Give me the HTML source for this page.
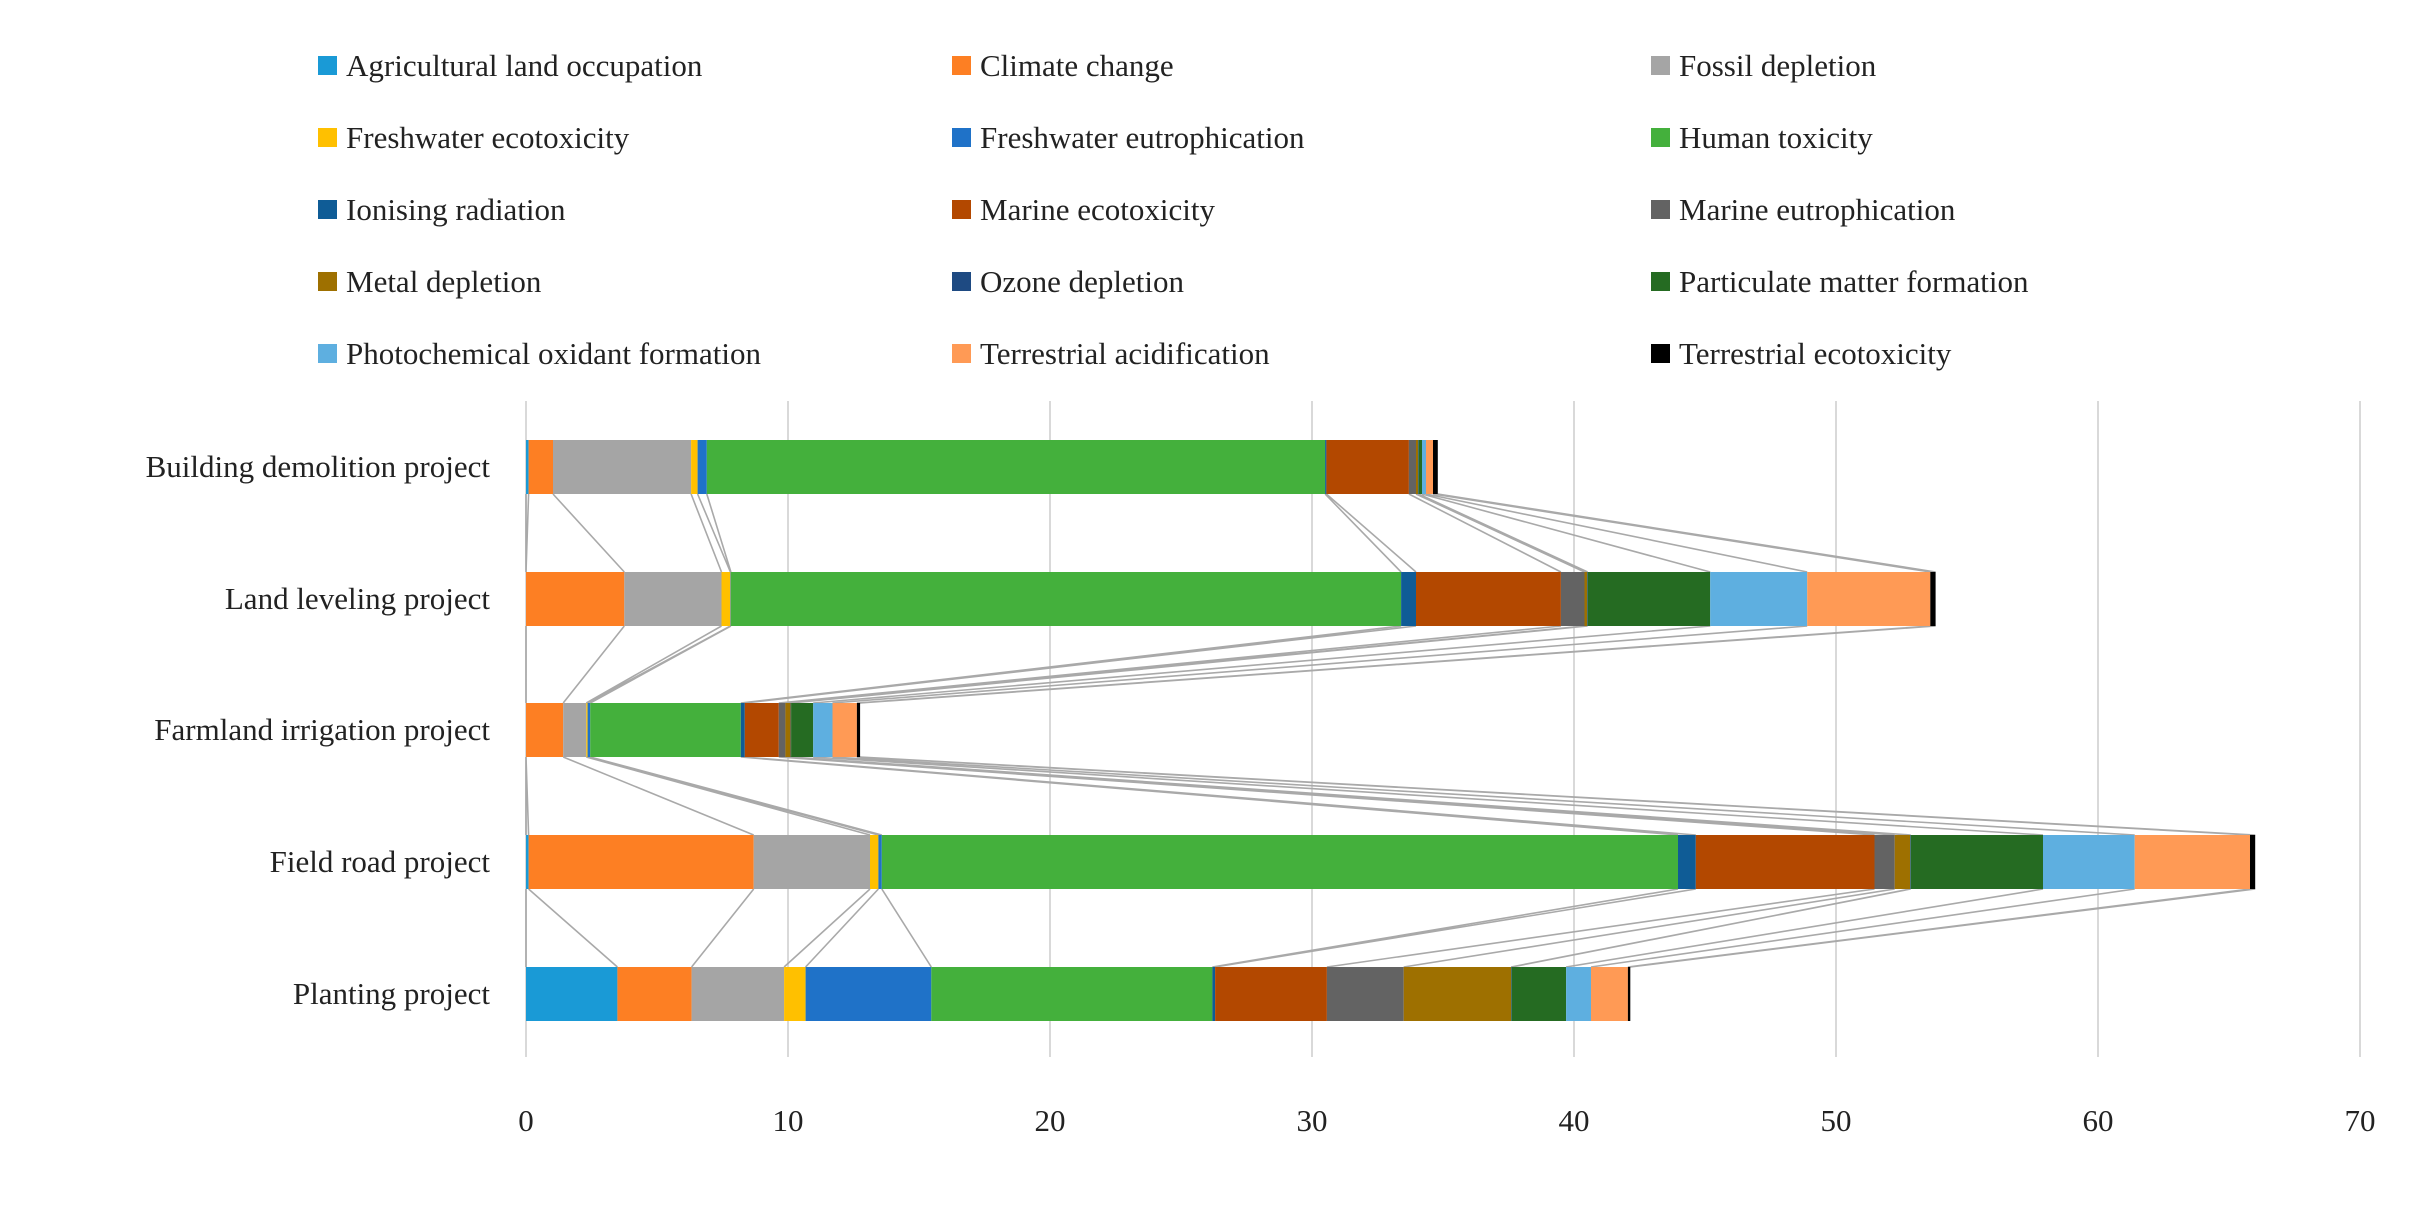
<!DOCTYPE html>
<html><head><meta charset="utf-8"><style>
body{margin:0;background:#fff;}
svg text{font-family:"Liberation Serif",serif;fill:#222;font-size:31px;}
</style></head><body>
<svg width="2409" height="1201" xmlns="http://www.w3.org/2000/svg">
<!-- legend -->
<g>
<rect x="318" y="56" width="19" height="19" fill="#1a9ad6"/><text x="346" y="76">Agricultural land occupation</text>
<rect x="952" y="56" width="19" height="19" fill="#fd7f23"/><text x="980" y="76">Climate change</text>
<rect x="1651" y="56" width="19" height="19" fill="#a5a5a5"/><text x="1679" y="76">Fossil depletion</text>
<rect x="318" y="128" width="19" height="19" fill="#ffc000"/><text x="346" y="148">Freshwater ecotoxicity</text>
<rect x="952" y="128" width="19" height="19" fill="#1f72c8"/><text x="980" y="148">Freshwater eutrophication</text>
<rect x="1651" y="128" width="19" height="19" fill="#44b03c"/><text x="1679" y="148">Human toxicity</text>
<rect x="318" y="200" width="19" height="19" fill="#0f5c96"/><text x="346" y="220">Ionising radiation</text>
<rect x="952" y="200" width="19" height="19" fill="#b34800"/><text x="980" y="220">Marine ecotoxicity</text>
<rect x="1651" y="200" width="19" height="19" fill="#636363"/><text x="1679" y="220">Marine eutrophication</text>
<rect x="318" y="272" width="19" height="19" fill="#9e7000"/><text x="346" y="292">Metal depletion</text>
<rect x="952" y="272" width="19" height="19" fill="#1e4a82"/><text x="980" y="292">Ozone depletion</text>
<rect x="1651" y="272" width="19" height="19" fill="#256b22"/><text x="1679" y="292">Particulate matter formation</text>
<rect x="318" y="344" width="19" height="19" fill="#5eafe0"/><text x="346" y="364">Photochemical oxidant formation</text>
<rect x="952" y="344" width="19" height="19" fill="#ff9a55"/><text x="980" y="364">Terrestrial acidification</text>
<rect x="1651" y="344" width="19" height="19" fill="#000000"/><text x="1679" y="364">Terrestrial ecotoxicity</text>
</g>
<!-- grid -->
<g stroke="#d9d9d9" stroke-width="2">
<line x1="526" y1="401" x2="526" y2="1057"/>
<line x1="788" y1="401" x2="788" y2="1057"/>
<line x1="1050" y1="401" x2="1050" y2="1057"/>
<line x1="1312" y1="401" x2="1312" y2="1057"/>
<line x1="1574" y1="401" x2="1574" y2="1057"/>
<line x1="1836" y1="401" x2="1836" y2="1057"/>
<line x1="2098" y1="401" x2="2098" y2="1057"/>
<line x1="2360" y1="401" x2="2360" y2="1057"/>
</g>
<g text-anchor="middle">
<text x="526" y="1131">0</text><text x="788" y="1131">10</text><text x="1050" y="1131">20</text><text x="1312" y="1131">30</text>
<text x="1574" y="1131">40</text><text x="1836" y="1131">50</text><text x="2098" y="1131">60</text><text x="2360" y="1131">70</text>
</g>
<!-- connectors -->
<path fill="none" stroke="#a9a9a9" stroke-width="1.6" d="
M526 494L526 572 M528.6 494L526 572 M553 494L624.3 572 M691.1 494L721.5 572 M697.6 494L730.4 572 M706.8 494L730.9 572 M1325.1 494L1401.1 572 M1326.4 494L1416 572 M1408.9 494L1560.9 572 M1416 494L1584.5 572 M1418.1 494L1587.1 572 M1418.6 494L1587.6 572 M1422 494L1710.2 572 M1426 494L1807.2 572 M1433 494L1930.3 572 M1437.8 494L1935.6 572
M526 626L526 703 M624.3 626L563.2 703 M721.5 626L586.3 703 M730.4 626L587.6 703 M730.9 626L590.2 703 M1401.1 626L740.8 703 M1416 626L744.8 703 M1560.9 626L778.8 703 M1584.5 626L785.4 703 M1587.1 626L790.6 703 M1587.6 626L791.1 703 M1710.2 626L813.2 703 M1807.2 626L832.5 703 M1930.3 626L856.9 703 M1935.6 626L860.1 703
M526 757L526 835 M526 757L528.6 835 M563.2 757L753.7 835 M586.3 757L870 835 M587.6 757L878.4 835 M590.2 757L881.8 835 M740.8 757L1678 835 M744.8 757L1695.8 835 M778.8 757L1874.5 835 M785.4 757L1894.7 835 M790.6 757L1910.1 835 M791.1 757L1910.7 835 M813.2 757L2043 835 M832.5 757L2134.7 835 M856.9 757L2250 835 M860.1 757L2255.2 835
M526 889L526 967 M528.6 889L617.4 967 M753.7 889L691.6 967 M870 889L784.1 967 M878.4 889L805.6 967 M881.8 889L931.3 967 M1678 889L1212.4 967 M1695.8 889L1215.1 967 M1874.5 889L1326.9 967 M1894.7 889L1403.7 967 M1910.1 889L1511.1 967 M1910.7 889L1511.6 967 M2043 889L1566.1 967 M2134.7 889L1591 967 M2250 889L1627.9 967 M2255.2 889L1630.3 967"/>
<!-- Building -->
<g>
<rect x="526" y="440" width="2.6" height="54" fill="#1a9ad6"/>
<rect x="528.6" y="440" width="24.4" height="54" fill="#fd7f23"/>
<rect x="553" y="440" width="138.1" height="54" fill="#a5a5a5"/>
<rect x="691.1" y="440" width="6.5" height="54" fill="#ffc000"/>
<rect x="697.6" y="440" width="9.2" height="54" fill="#1f72c8"/>
<rect x="706.8" y="440" width="618.3" height="54" fill="#44b03c"/>
<rect x="1325.1" y="440" width="1.3" height="54" fill="#0f5c96"/>
<rect x="1326.4" y="440" width="82.5" height="54" fill="#b34800"/>
<rect x="1408.9" y="440" width="7.1" height="54" fill="#636363"/>
<rect x="1416" y="440" width="2.1" height="54" fill="#9e7000"/>
<rect x="1418.1" y="440" width="0.5" height="54" fill="#1e4a82"/>
<rect x="1418.6" y="440" width="3.4" height="54" fill="#256b22"/>
<rect x="1422" y="440" width="4" height="54" fill="#5eafe0"/>
<rect x="1426" y="440" width="7" height="54" fill="#ff9a55"/>
<rect x="1433" y="440" width="4.8" height="54" fill="#000"/>
</g>
<!-- Land -->
<g>
<rect x="526" y="572" width="98.3" height="54" fill="#fd7f23"/>
<rect x="624.3" y="572" width="97.2" height="54" fill="#a5a5a5"/>
<rect x="721.5" y="572" width="8.9" height="54" fill="#ffc000"/>
<rect x="730.4" y="572" width="0.5" height="54" fill="#1f72c8"/>
<rect x="730.9" y="572" width="670.2" height="54" fill="#44b03c"/>
<rect x="1401.1" y="572" width="14.9" height="54" fill="#0f5c96"/>
<rect x="1416" y="572" width="144.9" height="54" fill="#b34800"/>
<rect x="1560.9" y="572" width="23.6" height="54" fill="#636363"/>
<rect x="1584.5" y="572" width="2.6" height="54" fill="#9e7000"/>
<rect x="1587.1" y="572" width="0.5" height="54" fill="#1e4a82"/>
<rect x="1587.6" y="572" width="122.6" height="54" fill="#256b22"/>
<rect x="1710.2" y="572" width="97" height="54" fill="#5eafe0"/>
<rect x="1807.2" y="572" width="123.1" height="54" fill="#ff9a55"/>
<rect x="1930.3" y="572" width="5.3" height="54" fill="#000"/>
</g>
<!-- Farmland -->
<g>
<rect x="526" y="703" width="37.2" height="54" fill="#fd7f23"/>
<rect x="563.2" y="703" width="23.1" height="54" fill="#a5a5a5"/>
<rect x="586.3" y="703" width="1.3" height="54" fill="#ffc000"/>
<rect x="587.6" y="703" width="2.6" height="54" fill="#1f72c8"/>
<rect x="590.2" y="703" width="150.6" height="54" fill="#44b03c"/>
<rect x="740.8" y="703" width="4" height="54" fill="#0f5c96"/>
<rect x="744.8" y="703" width="34" height="54" fill="#b34800"/>
<rect x="778.8" y="703" width="6.6" height="54" fill="#636363"/>
<rect x="785.4" y="703" width="5.2" height="54" fill="#9e7000"/>
<rect x="790.6" y="703" width="0.5" height="54" fill="#1e4a82"/>
<rect x="791.1" y="703" width="22.1" height="54" fill="#256b22"/>
<rect x="813.2" y="703" width="19.3" height="54" fill="#5eafe0"/>
<rect x="832.5" y="703" width="24.4" height="54" fill="#ff9a55"/>
<rect x="856.9" y="703" width="3.2" height="54" fill="#000"/>
</g>
<!-- Field road -->
<g>
<rect x="526" y="835" width="2.6" height="54" fill="#1a9ad6"/>
<rect x="528.6" y="835" width="225.1" height="54" fill="#fd7f23"/>
<rect x="753.7" y="835" width="116.3" height="54" fill="#a5a5a5"/>
<rect x="870" y="835" width="8.4" height="54" fill="#ffc000"/>
<rect x="878.4" y="835" width="3.4" height="54" fill="#1f72c8"/>
<rect x="881.8" y="835" width="796.2" height="54" fill="#44b03c"/>
<rect x="1678" y="835" width="17.8" height="54" fill="#0f5c96"/>
<rect x="1695.8" y="835" width="178.7" height="54" fill="#b34800"/>
<rect x="1874.5" y="835" width="20.2" height="54" fill="#636363"/>
<rect x="1894.7" y="835" width="15.4" height="54" fill="#9e7000"/>
<rect x="1910.1" y="835" width="0.6" height="54" fill="#1e4a82"/>
<rect x="1910.7" y="835" width="132.3" height="54" fill="#256b22"/>
<rect x="2043" y="835" width="91.7" height="54" fill="#5eafe0"/>
<rect x="2134.7" y="835" width="115.3" height="54" fill="#ff9a55"/>
<rect x="2250" y="835" width="5.2" height="54" fill="#000"/>
</g>
<!-- Planting -->
<g>
<rect x="526" y="967" width="91.4" height="54" fill="#1a9ad6"/>
<rect x="617.4" y="967" width="74.2" height="54" fill="#fd7f23"/>
<rect x="691.6" y="967" width="92.5" height="54" fill="#a5a5a5"/>
<rect x="784.1" y="967" width="21.5" height="54" fill="#ffc000"/>
<rect x="805.6" y="967" width="125.7" height="54" fill="#1f72c8"/>
<rect x="931.3" y="967" width="281.1" height="54" fill="#44b03c"/>
<rect x="1212.4" y="967" width="2.7" height="54" fill="#0f5c96"/>
<rect x="1215.1" y="967" width="111.8" height="54" fill="#b34800"/>
<rect x="1326.9" y="967" width="76.8" height="54" fill="#636363"/>
<rect x="1403.7" y="967" width="107.4" height="54" fill="#9e7000"/>
<rect x="1511.1" y="967" width="0.5" height="54" fill="#1e4a82"/>
<rect x="1511.6" y="967" width="54.5" height="54" fill="#256b22"/>
<rect x="1566.1" y="967" width="24.9" height="54" fill="#5eafe0"/>
<rect x="1591" y="967" width="36.9" height="54" fill="#ff9a55"/>
<rect x="1627.9" y="967" width="2.4" height="54" fill="#000"/>
</g>
<!-- category labels -->
<g text-anchor="end">
<text x="490" y="477">Building demolition project</text>
<text x="490" y="609">Land leveling project</text>
<text x="490" y="740">Farmland irrigation project</text>
<text x="490" y="872">Field road project</text>
<text x="490" y="1004">Planting project</text>
</g>
</svg>
</body></html>
